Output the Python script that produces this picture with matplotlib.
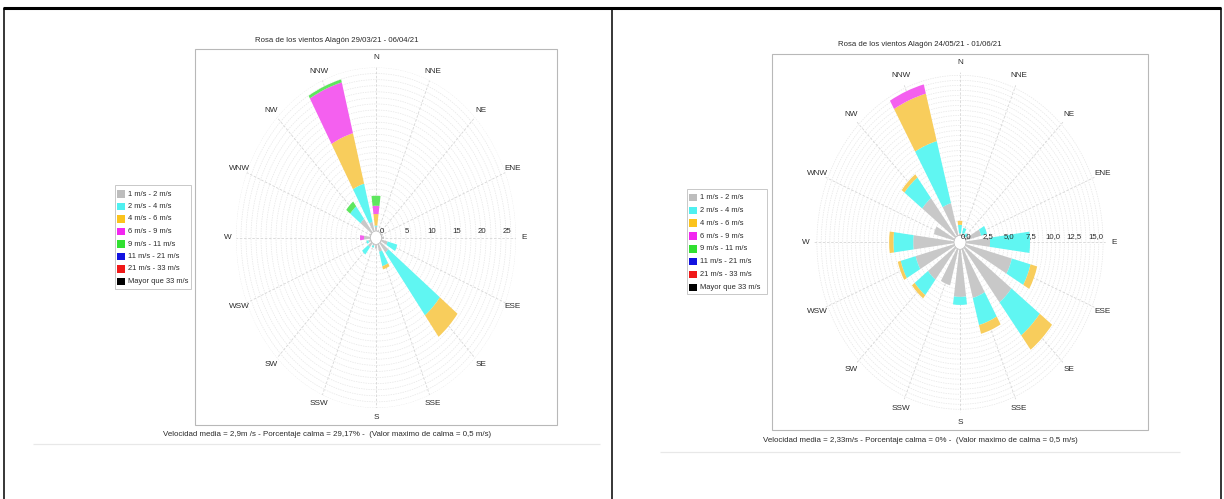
import numpy as np
import matplotlib
matplotlib.use('Agg')
import matplotlib.pyplot as plt
from matplotlib.patches import Rectangle, Ellipse
from matplotlib.lines import Line2D
import matplotlib.transforms as mtransforms

FONT = ['Liberation Sans', 'DejaVu Sans']
plt.rcParams['font.family'] = FONT

W, H = 1224, 499

# ---------------- data ----------------
directions = ['N', 'NNE', 'NE', 'ENE', 'E', 'ESE', 'SE', 'SSE',
              'S', 'SSW', 'SW', 'WSW', 'W', 'WNW', 'NW', 'NNW']
speed_bins = ['1 m/s - 2 m/s', '2 m/s - 4 m/s', '4 m/s - 6 m/s', '6 m/s - 9 m/s',
              '9 m/s - 11 m/s', '11 m/s - 21 m/s', '21 m/s - 33 m/s', 'Mayor que 33 m/s']

# Left rose: 29/03/21 - 06/04/21 (percent of time per direction & speed bin)
left_1_2   = [0.8, 0.3, 0.3, 0.4, 0.6, 1.4, 2.1, 1.4, 0.8, 0.4, 1.0, 0.6, 1.4, 0.4, 2.9, 1.7]
left_2_4   = [0.2, 0.0, 0.0, 0.0, 0.0, 2.0, 13.0, 2.45, 0.0, 0.3, 1.5, 0.4, 0.0, 0.0, 2.6, 6.5]
left_4_6   = [1.9, 0.0, 0.0, 0.0, 0.0, 0.0, 4.45, 0.55, 0.0, 0.0, 0.0, 0.0, 0.0, 0.0, 0.0, 8.6]
left_6_9   = [1.36, 0.0, 0.0, 0.0, 0.0, 0.0, 0.0, 0.0, 0.0, 0.0, 0.0, 0.0, 0.8, 0.0, 0.0, 8.65]
left_9_11  = [1.64, 0.0, 0.0, 0.0, 0.0, 0.0, 0.0, 0.0, 0.0, 0.0, 0.0, 0.0, 0.0, 0.0, 1.0, 0.5]
left_ticks = [0, 5, 10, 15, 20, 25]
left_tick_labels = ['0', '5', '10', '15', '20', '25']
left_title = 'Rosa de los vientos Alagón 29/03/21 - 06/04/21'
left_footer = 'Velocidad media = 2,9m /s - Porcentaje calma = 29,17% -  (Valor maximo de calma = 0,5 m/s)'

# Right rose: 24/05/21 - 01/06/21
right_1_2  = [0.25, 0.3, 0.15, 1.9, 2.85, 5.6, 6.9, 5.1, 4.8, 3.8, 4.05, 4.7, 4.8, 2.5, 4.9, 3.4]
right_2_4  = [0.85, 0.55, 0.35, 0.7, 4.65, 2.25, 4.15, 2.8, 0.8, 0.0, 1.95, 1.8, 2.3, 0.0, 2.6, 6.4]
right_4_6  = [0.4, 0.0, 0.0, 0.0, 0.0, 0.8, 1.8, 0.9, 0.0, 0.0, 0.4, 0.35, 0.5, 0.0, 0.4, 4.9]
right_6_9  = [0.0, 0.0, 0.0, 0.0, 0.0, 0.0, 0.0, 0.0, 0.0, 0.0, 0.0, 0.0, 0.0, 0.0, 0.0, 0.95]
right_9_11 = [0.0] * 16
right_ticks = [0, 2.5, 5, 7.5, 10, 12.5, 15]
right_tick_labels = ['0,0', '2,5', '5,0', '7,5', '10,0', '12,5', '15,0']
right_title = 'Rosa de los vientos Alagón 24/05/21 - 01/06/21'
right_footer = 'Velocidad media = 2,33m/s - Porcentaje calma = 0% -  (Valor maximo de calma = 0,5 m/s)'

# ---------------- styles ----------------
bar_colors = ['#c8c8c8', '#60f6f2', '#f8cd5c', '#f460ef', '#5ee65e', '#2020e0', '#f02020', '#000000']
legend_colors = ['#bdbdbd', '#4ff0f0', '#fbc31c', '#f226f0', '#30e030', '#1212e0', '#f01818', '#000000']
TXT = '#2a2a2a'

fig = plt.figure(figsize=(W / 100, H / 100), dpi=100)
fig.patch.set_facecolor('white')


def fx(x):
    return x / W


def fy(y):
    return 1 - y / H


def fline(xs, ys, color, lw):
    fig.add_artist(Line2D([fx(x) for x in xs], [fy(y) for y in ys], color=color, lw=lw,
                          transform=fig.transFigure, solid_capstyle='butt'))


def frect(x0, y0, x1, y1, ec, lw, fc='none', z=1):
    fig.add_artist(Rectangle((fx(x0), fy(y1)), fx(x1) - fx(x0), fy(y0) - fy(y1),
                             transform=fig.transFigure, fc=fc, ec=ec, lw=lw, zorder=z))


# outer table frame
fline([3, 1221], [8, 8], 'black', 2.2)
fline([4, 4], [8, 499], 'black', 1.1)
fline([612, 612], [8, 499], 'black', 1.1)
fline([1220.5, 1220.5], [8, 499], 'black', 1.1)


def draw_panel(series, ticks, tick_labels, title, footer, p):
    # plot box
    frect(p['box'][0], p['box'][1], p['box'][2], p['box'][3], '#b8b8b8', 0.8)
    cx, cy, k, r0, rmax, q = p['cx'], p['cy'], p['k'], p['r0'], p['rmax'], p['q']
    rh = (rmax + r0) * k
    rv = rh * q
    ax = fig.add_axes([fx(cx - rh), fy(cy + rv), 2 * rh / W, 2 * rv / H], projection='polar')
    ax.set_aspect('auto')
    ax.set_theta_zero_location('N')
    ax.set_theta_direction(-1)
    ax.set_ylim(0, rmax)
    ax.set_rorigin(-r0)
    ax.set_xticks([])
    ax.set_yticks([])
    for sp in ax.spines.values():
        sp.set_visible(False)
    ax.patch.set_alpha(0)

    theta = np.deg2rad(np.arange(16) * 22.5)
    # grid circles
    tt = np.linspace(0, 2 * np.pi, 361)
    for r in np.arange(p['gstep'], rmax + 1e-6, p['gstep']):
        ax.plot(tt, np.full_like(tt, r), color='#e6e6e6', lw=0.5, ls=(0, (2, 1.5)), zorder=1)
    for t in theta:
        ax.plot([t, t], [0, rmax], color='#d6d6d6', lw=0.6, ls=(0, (3, 2)), zorder=1)

    width = np.deg2rad(15)
    bottom = np.zeros(16)
    for vals, col in zip(series, bar_colors):
        vals = np.asarray(vals, dtype=float)
        m = vals > 0
        if m.any():
            ax.bar(theta[m], vals[m], width=width, bottom=bottom[m], color=col,
                   edgecolor='none', linewidth=0, zorder=3, align='center')
        bottom = bottom + vals

    # direction labels
    for t, d in zip(theta, directions):
        ax.text(t, p['rlab'], d, ha='center', va='center', fontsize=5.9, color=TXT,
                clip_on=False, zorder=5)

    # calm circle in the centre
    rc = r0 * k + 0.5
    fig.add_artist(Ellipse((fx(cx), fy(cy)), 2 * rc / W, 2 * rc * q / H,
                           transform=fig.transFigure, fc='white', ec='#c4c4c4', lw=0.5, zorder=10))

    # radial tick labels along E axis (drawn above the calm circle)
    off = mtransforms.offset_copy(ax.transData, fig=fig, x=p['tdx'], y=2.5, units='dots')
    for v, lab in zip(ticks, tick_labels):
        fig.text(np.pi / 2, v, lab, transform=off, ha='center', va='bottom', fontsize=5.6,
                 color=TXT, zorder=11)

    # title and footer
    fig.text(fx(p['title'][0]), fy(p['title'][1]), title, ha='center', va='center',
             fontsize=5.6, color=TXT)
    fig.text(fx(p['footer'][0]), fy(p['footer'][1]), footer, ha='center', va='center',
             fontsize=5.7, color=TXT)
    fline(p['sep'][0:2], [p['sep'][2], p['sep'][2]], '#e8e8e8', 0.9)

    # legend
    lx0, ly0, lx1, ly1 = p['leg']
    frect(lx0, ly0, lx1, ly1, '#c8c8c8', 0.7, fc='white', z=4)
    for i, (lab, col) in enumerate(zip(speed_bins, legend_colors)):
        yy = p['leg_y0'] + i * p['leg_dy']
        frect(lx0 + 2, yy - 3.7, lx0 + 9.5, yy + 3.7, 'none', 0, fc=col, z=5)
        fig.text(fx(lx0 + 12.5), fy(yy), lab, ha='left', va='center', fontsize=5.4,
                 color=TXT, zorder=6)


left_p = dict(box=(195, 49, 557, 425), cx=376, cy=237.7, k=5.0, r0=1.0, rmax=27.0, q=1.216,
              gstep=1.0, rlab=28.6, tdx=1, title=(337, 41), footer=(327, 434),
              sep=(33, 600, 444), leg=(115, 185, 191, 289), leg_y0=194, leg_dy=12.5)
right_p = dict(box=(772, 54, 1148, 430), cx=960, cy=242.3, k=8.6, r0=0.64, rmax=16.3, q=1.167,
               gstep=0.5, rlab=17.3, tdx=1, title=(920, 45), footer=(920.5, 440),
               sep=(660, 1180, 452), leg=(687, 189, 767, 294), leg_y0=197.5, leg_dy=12.85)

draw_panel([left_1_2, left_2_4, left_4_6, left_6_9, left_9_11],
           left_ticks, left_tick_labels, left_title, left_footer, left_p)
draw_panel([right_1_2, right_2_4, right_4_6, right_6_9, right_9_11],
           right_ticks, right_tick_labels, right_title, right_footer, right_p)

fig.savefig('out.png', dpi=100, facecolor='white')
